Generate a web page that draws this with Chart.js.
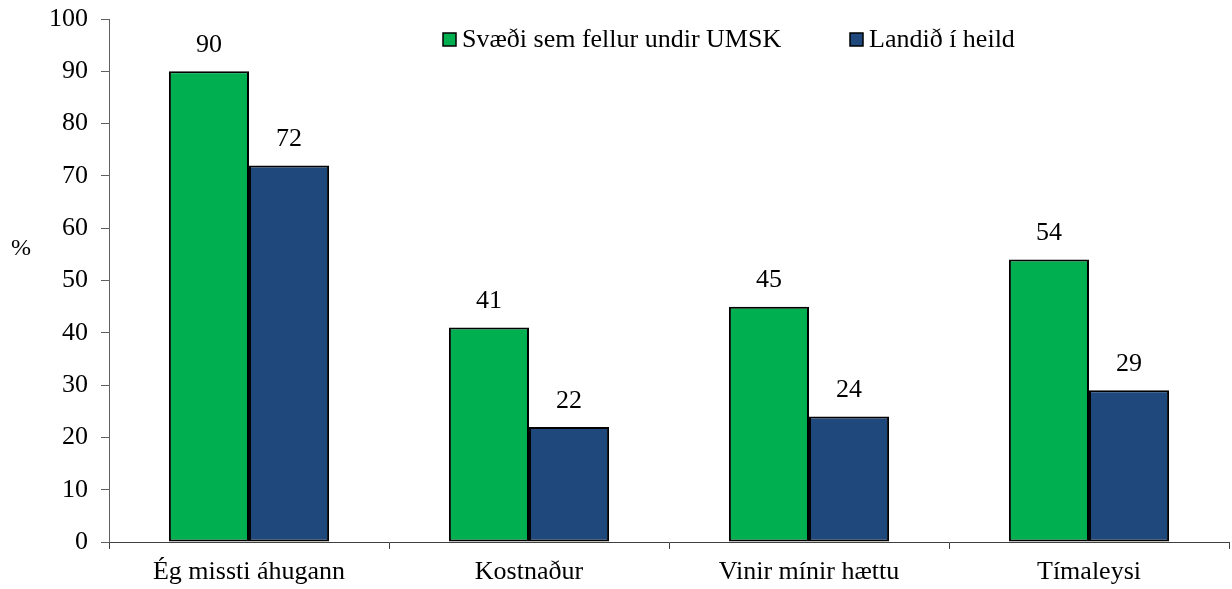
<!DOCTYPE html>
<html>
<head>
<meta charset="utf-8">
<script src="https://cdn.jsdelivr.net/npm/chart.js@4"></script>
<style>
  html, body { margin: 0; padding: 0; background: #ffffff; }
  #wrap { width: 1232px; height: 589px; }
</style>
</head>
<body>
<div id="wrap"><canvas id="barChart" width="1232" height="589"></canvas></div>
<script>
// Categories and series values
const categories = ['Ég missti áhugann', 'Kostnaður', 'Vinir mínir hættu', 'Tímaleysi'];
const umskValues = [90, 41, 45, 54];
const landidValues = [72, 22, 24, 29];
const seriesNames = ['Svæði sem fellur undir UMSK', 'Landið í heild'];
const yTicks = [0, 10, 20, 30, 40, 50, 60, 70, 80, 90, 100];

const FONT = '"Liberation Serif", "Times New Roman", serif';
const GREEN = '#00AF50';
const BLUE = '#1F497D';

// value labels above each bar
const valueLabels = {
    id: 'valueLabels',
    afterDatasetsDraw(chart) {
        const ctx = chart.ctx;
        ctx.save();
        ctx.font = '26px ' + FONT;
        ctx.fillStyle = '#000';
        ctx.textAlign = 'center';
        ctx.textBaseline = 'middle';
        chart.data.datasets.forEach((ds, i) => {
            chart.getDatasetMeta(i).data.forEach((bar, j) => {
                ctx.fillText(String(ds.data[j]), bar.x, bar.y - 26);
            });
        });
        ctx.restore();
    }
};

// legend inside the plot area + the "%" axis title
const extras = {
    id: 'extras',
    afterDraw(chart) {
        const ctx = chart.ctx;
        ctx.save();
        ctx.textBaseline = 'middle';
        ctx.fillStyle = '#000';
        ctx.textAlign = 'left';
        ctx.font = '24px ' + FONT;
        ctx.fillText('%', 11, 249);

        ctx.font = '26px ' + FONT;
        const starts = [443, 850];
        chart.data.datasets.forEach((ds, i) => {
            const x = starts[i];
            ctx.fillStyle = ds.backgroundColor;
            ctx.fillRect(x, 33, 13, 13);
            ctx.strokeStyle = '#000';
            ctx.lineWidth = 1.5;
            ctx.strokeRect(x, 33, 13, 13);
            ctx.fillStyle = '#000';
            ctx.fillText(ds.label, x + 19, 40);
        });
        ctx.restore();
    }
};

new Chart(document.getElementById('barChart'), {
    type: 'bar',
    data: {
        labels: categories,
        datasets: [{
            label: seriesNames[0],
            data: umskValues,
            backgroundColor: GREEN,
            borderColor: '#000',
            borderWidth: 2,
            borderSkipped: false,
            barPercentage: 1,
            categoryPercentage: 0.572
        }, {
            label: seriesNames[1],
            data: landidValues,
            backgroundColor: BLUE,
            borderColor: '#000',
            borderWidth: 2,
            borderSkipped: false,
            barPercentage: 1,
            categoryPercentage: 0.572
        }]
    },
    options: {
        responsive: false,
        animation: false,
        layout: { padding: { top: 19, right: 3, left: 0, bottom: 0 } },
        plugins: {
            legend: { display: false },
            tooltip: { enabled: false }
        },
        scales: {
            x: {
                offset: true,
                grid: {
                    offset: true,
                    drawOnChartArea: false,
                    drawTicks: true,
                    tickLength: 7,
                    color: '#404040'
                },
                border: { color: '#404040', width: 1 },
                ticks: {
                    color: '#000',
                    font: { family: FONT, size: 26 },
                    padding: 8,
                    maxRotation: 0
                },
                afterFit(scale) { scale.height = 47; }
            },
            y: {
                min: 0,
                max: 100,
                afterBuildTicks(scale) {
                    scale.ticks = yTicks.map(v => ({ value: v }));
                },
                grid: {
                    drawOnChartArea: false,
                    drawTicks: true,
                    tickLength: 8,
                    color: '#606060'
                },
                border: { color: '#606060', width: 1 },
                ticks: {
                    color: '#000',
                    font: { family: FONT, size: 26 },
                    padding: 13
                },
                afterFit(scale) {
                    scale.width = 109;
                    scale.paddingTop = 0;
                    scale.paddingBottom = 0;
                }
            }
        }
    },
    plugins: [valueLabels, extras]
});
</script>
</body>
</html>
